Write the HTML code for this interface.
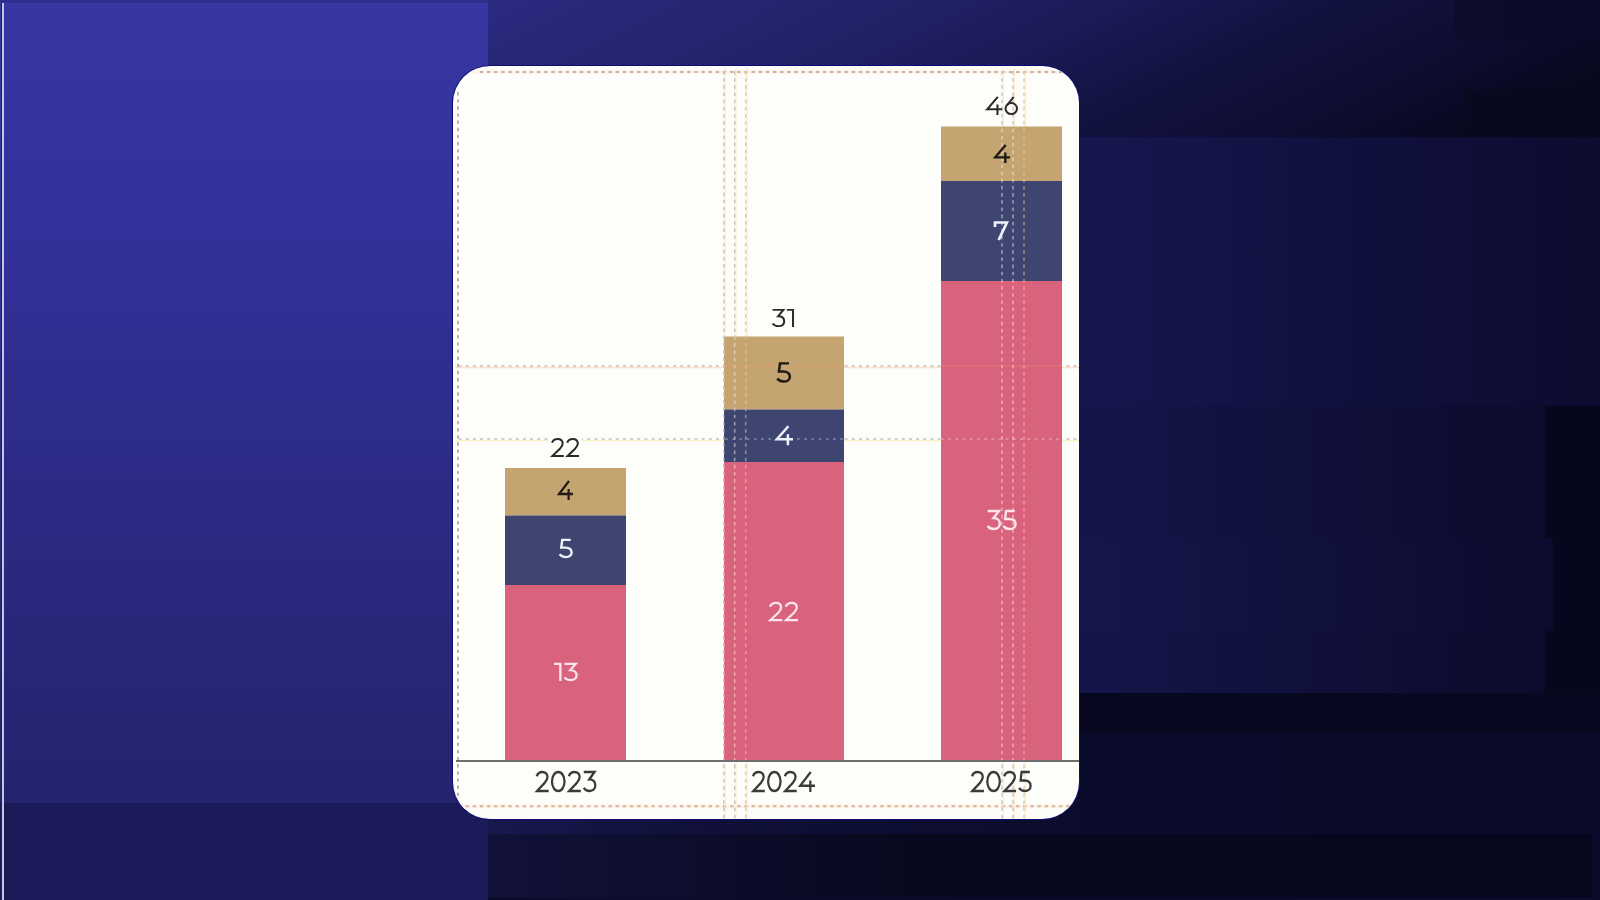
<!DOCTYPE html>
<html><head><meta charset="utf-8">
<style>
html,body{margin:0;padding:0;width:1600px;height:900px;overflow:hidden;background:#0c0c30;}
body{position:relative;font-family:"Liberation Sans",sans-serif;}
.b{position:absolute;}
svg{position:absolute;left:0;top:0;}
#chart{filter:blur(0.4px);}
</style></head>
<body>
<!-- background blocks -->
<svg width="1600" height="900" viewBox="0 0 1600 900"><defs><linearGradient id="g0" gradientUnits="userSpaceOnUse" x1="488" y1="0" x2="737.4" y2="498.9"><stop offset="0.000" stop-color="#2a2a80"/><stop offset="0.320" stop-color="#22226a"/><stop offset="0.520" stop-color="#1a1a55"/><stop offset="0.680" stop-color="#121240"/><stop offset="0.830" stop-color="#0e0e34"/><stop offset="1.000" stop-color="#08081f"/></linearGradient><linearGradient id="g1" gradientUnits="userSpaceOnUse" x1="1454" y1="0" x2="1600" y2="0"><stop offset="0.000" stop-color="#0c0c2c"/><stop offset="1.000" stop-color="#0a0a26"/></linearGradient><linearGradient id="g2" gradientUnits="userSpaceOnUse" x1="1465" y1="0" x2="1600" y2="0"><stop offset="0.000" stop-color="#08081f"/><stop offset="1.000" stop-color="#07081e"/></linearGradient><linearGradient id="g3" gradientUnits="userSpaceOnUse" x1="1079" y1="0" x2="1600" y2="0"><stop offset="0.000" stop-color="#17174f"/><stop offset="0.520" stop-color="#10103e"/><stop offset="1.000" stop-color="#0c0c30"/></linearGradient><linearGradient id="g4" gradientUnits="userSpaceOnUse" x1="1079" y1="0" x2="1545" y2="0"><stop offset="0.000" stop-color="#15154a"/><stop offset="1.000" stop-color="#0b0b2c"/></linearGradient><linearGradient id="g5" gradientUnits="userSpaceOnUse" x1="1079" y1="0" x2="1553" y2="0"><stop offset="0.000" stop-color="#16164c"/><stop offset="1.000" stop-color="#0b0b2d"/></linearGradient><linearGradient id="g6" gradientUnits="userSpaceOnUse" x1="1079" y1="0" x2="1545" y2="0"><stop offset="0.000" stop-color="#15154a"/><stop offset="1.000" stop-color="#0b0b2c"/></linearGradient><linearGradient id="g7" gradientUnits="userSpaceOnUse" x1="488" y1="0" x2="1600" y2="0"><stop offset="0.000" stop-color="#18184e"/><stop offset="0.191" stop-color="#10103a"/><stop offset="0.532" stop-color="#0b0c2c"/><stop offset="1.000" stop-color="#0a0b28"/></linearGradient><linearGradient id="g8" gradientUnits="userSpaceOnUse" x1="488" y1="0" x2="1592" y2="0"><stop offset="0.000" stop-color="#12123a"/><stop offset="0.373" stop-color="#08081f"/><stop offset="1.000" stop-color="#06071c"/></linearGradient><linearGradient id="g9" gradientUnits="userSpaceOnUse" x1="0" y1="3" x2="0" y2="803"><stop offset="0.000" stop-color="#3737a3"/><stop offset="0.300" stop-color="#31319a"/><stop offset="0.700" stop-color="#29297f"/><stop offset="1.000" stop-color="#24236e"/></linearGradient></defs><rect x="0" y="0" width="1600" height="900" fill="#0c0c30" opacity="1"/><rect x="488" y="0" width="1112" height="137" fill="url(#g0)" opacity="1"/><rect x="1454" y="0" width="146" height="41" fill="url(#g1)" opacity="1"/><rect x="1465" y="90" width="135" height="47" fill="url(#g2)" opacity="1"/><rect x="1079" y="137" width="521" height="269" fill="url(#g3)" opacity="1"/><rect x="1079" y="406" width="466" height="133" fill="url(#g4)" opacity="1"/><rect x="1545" y="406" width="55" height="287" fill="#06071c" opacity="1"/><rect x="1079" y="539" width="474" height="92" fill="url(#g5)" opacity="1"/><rect x="1079" y="631" width="466" height="62" fill="url(#g6)" opacity="1"/><rect x="488" y="693" width="1112" height="40" fill="#07081f" opacity="1"/><rect x="488" y="733" width="1112" height="101" fill="url(#g7)" opacity="1"/><rect x="488" y="834" width="1104" height="63" fill="url(#g8)" opacity="1"/><rect x="1592" y="834" width="8" height="63" fill="#0b0c2c" opacity="1"/><rect x="488" y="897" width="1112" height="3" fill="#0b0c2c" opacity="1"/><rect x="0" y="3" width="488" height="800" fill="url(#g9)" opacity="1"/><rect x="0" y="803" width="488" height="97" fill="#1c1b5a" opacity="1"/><rect x="0" y="0" width="488" height="3" fill="#2e2e8c" opacity="1"/><rect x="1" y="3" width="1" height="897" fill="#1a18a0" opacity="1"/><rect x="2" y="3" width="2" height="897" fill="#c6c6de" opacity="1"/></svg>
<svg id="chart" width="1600" height="900" viewBox="0 0 1600 900">
<defs><g id="d0"><ellipse cx="37" cy="50" rx="32" ry="45"/></g><g id="d1"><path d="M0 5H31V100"/></g><g id="d2"><path d="M5 25C10 12 21 5 34 5C50 5 60 15 60 29C60 39 55 46 47 55L7 95H66"/></g><g id="d3"><path d="M3 5H58L31 40C50 40 62 51 62 68C62 85 50 95 33 95C20 95 9 89 3 80"/></g><g id="d4"><path d="M60 5L6 70H82M58 45V100"/></g><g id="d5"><path d="M58 5H16L11 45H31C51 45 62 56 62 71C62 86 50 95 33 95C20 95 9 89 3 80"/></g><g id="d6"><path d="M46 5L12 50"/><circle cx="34" cy="66" r="29"/></g><g id="d7"><path d="M5 30V5H61L22 100"/></g>
<clipPath id="bc"><rect x="505" y="468" width="121" height="293"/><rect x="724" y="336.5" width="120" height="424.5"/><rect x="941" y="126.5" width="121" height="634.5"/></clipPath>
<clipPath id="cc"><rect x="453" y="66" width="626" height="753" rx="37" ry="37"/></clipPath>
</defs>
<rect x="452" y="65" width="628" height="755" rx="38" ry="38" fill="#0d0d78"/>
<rect x="453" y="66" width="626" height="753" rx="37" ry="37" fill="#fdfdf9"/>
<g clip-path="url(#cc)">
<rect x="455" y="367" width="624" height="1.2" fill="#fbd9c0" opacity="0.9"/><rect x="455" y="440" width="624" height="1.2" fill="#fbf0c0" opacity="0.9"/><rect x="455" y="70" width="624" height="4" fill="#fcefe6" opacity="0.7"/><line x1="479.80" y1="72" x2="1079" y2="72" stroke="#c4b4ac" stroke-width="1.9" stroke-dasharray="3.4 3.75" opacity="1.0"/><line x1="458.55" y1="366" x2="1079" y2="366" stroke="#c8bcb8" stroke-width="1.7" stroke-dasharray="3 4.15" opacity="1.0"/><line x1="458.55" y1="439" x2="1079" y2="439" stroke="#c8c0b8" stroke-width="1.7" stroke-dasharray="3 4.15" opacity="1.0"/><rect x="455" y="804.3" width="624" height="4" fill="#fcefe6" opacity="0.7"/><line x1="458.35" y1="806.3" x2="1079" y2="806.3" stroke="#d8b49c" stroke-width="1.9" stroke-dasharray="3.4 3.75" opacity="1.0"/><line x1="458" y1="92.00" x2="458" y2="796" stroke="#b8aaa6" stroke-width="1.8" stroke-dasharray="3.4 3.75" opacity="1.0"/>
<rect x="724.3" y="68" width="1.5" height="751" fill="#fce6c8" opacity="0.7"/><line x1="723.8" y1="71.05" x2="723.8" y2="819" stroke="#c4b4a8" stroke-width="1.15" stroke-dasharray="3.6 3.55" opacity="1.0"/><rect x="735.2" y="68" width="1.5" height="751" fill="#fce6c8" opacity="0.7"/><line x1="734.7" y1="71.05" x2="734.7" y2="819" stroke="#c4b4a8" stroke-width="1.15" stroke-dasharray="3.6 3.55" opacity="1.0"/><rect x="746.2" y="68" width="1.5" height="751" fill="#fce6c8" opacity="0.7"/><line x1="745.7" y1="71.05" x2="745.7" y2="819" stroke="#dcc098" stroke-width="1.15" stroke-dasharray="3.6 3.55" opacity="1.0"/><rect x="1002.5" y="68" width="1.5" height="751" fill="#fce6c8" opacity="0.7"/><line x1="1002" y1="71.05" x2="1002" y2="819" stroke="#c4b4a8" stroke-width="1.15" stroke-dasharray="3.6 3.55" opacity="1.0"/><rect x="1013.5" y="68" width="1.5" height="751" fill="#fce6c8" opacity="0.7"/><line x1="1013" y1="71.05" x2="1013" y2="819" stroke="#c4b4a8" stroke-width="1.15" stroke-dasharray="3.6 3.55" opacity="1.0"/><rect x="1024.5" y="68" width="1.5" height="751" fill="#fce6c8" opacity="0.7"/><line x1="1024" y1="71.05" x2="1024" y2="819" stroke="#dcc098" stroke-width="1.15" stroke-dasharray="3.6 3.55" opacity="1.0"/>
<rect x="505" y="468" width="121" height="47.5" fill="#c4a572"/><rect x="505" y="515.5" width="121" height="69.5" fill="#3d4570"/><rect x="505" y="585" width="121" height="176" fill="#d9627c"/><rect x="724" y="336.5" width="120" height="73.0" fill="#c4a572"/><rect x="724" y="409.5" width="120" height="52.5" fill="#3d4570"/><rect x="724" y="462" width="120" height="299" fill="#d9627c"/><rect x="941" y="126.5" width="121" height="54.5" fill="#c4a572"/><rect x="941" y="181" width="121" height="100" fill="#3d4570"/><rect x="941" y="281" width="121" height="480" fill="#d9627c"/>
<g clip-path="url(#bc)"><line x1="723.8" y1="71.55" x2="723.8" y2="819" stroke="#fff0f4" stroke-width="1.6" stroke-dasharray="3.6 3.55" opacity="0.5"/><line x1="734.7" y1="71.55" x2="734.7" y2="819" stroke="#fff0f4" stroke-width="1.6" stroke-dasharray="3.6 3.55" opacity="0.5"/><line x1="745.7" y1="71.55" x2="745.7" y2="819" stroke="#ffc8a0" stroke-width="1.6" stroke-dasharray="3.6 3.55" opacity="0.5"/><line x1="1002" y1="71.55" x2="1002" y2="819" stroke="#fff0f4" stroke-width="1.6" stroke-dasharray="3.6 3.55" opacity="0.5"/><line x1="1013" y1="71.55" x2="1013" y2="819" stroke="#fff0f4" stroke-width="1.6" stroke-dasharray="3.6 3.55" opacity="0.5"/><line x1="1024" y1="71.55" x2="1024" y2="819" stroke="#ffc8a0" stroke-width="1.6" stroke-dasharray="3.6 3.55" opacity="0.5"/><rect x="724" y="365.2" width="120" height="1.6" fill="#f0a070" opacity="0.45"/><line x1="458.60" y1="439" x2="1079" y2="439" stroke="#ffffff" stroke-width="1.6" stroke-dasharray="2.8 4.40" opacity="0.35"/><rect x="941" y="365.2" width="121" height="1.6" fill="#f0a070" opacity="0.25"/></g>
<rect x="456" y="760" width="623" height="2" fill="#6e6e6e"/>
<rect x="548" y="436" width="34" height="6" fill="#fdfdf9"/>
<g transform="translate(551.00,438.00) scale(0.1944,0.1900)" stroke="#2c2c2c" stroke-width="10.5" fill="none" opacity="1.0"><use href="#d2" x="0"/><use href="#d2" x="78"/></g>
<g transform="translate(558.00,480.00) scale(0.1829,0.2000)" stroke="#1e1a14" stroke-width="12" fill="none" opacity="1.0"><use href="#d4" x="0"/></g>
<g transform="translate(559.00,539.00) scale(0.2031,0.1900)" stroke="#eef0fa" stroke-width="12" fill="none" opacity="1.0"><use href="#d5" x="0"/></g>
<g transform="translate(554.00,663.00) scale(0.2054,0.1800)" stroke="#fbe4ec" stroke-width="11.5" fill="none" opacity="1.0"><use href="#d1" x="0"/><use href="#d3" x="48"/></g>
<g transform="translate(772.00,309.00) scale(0.1964,0.1800)" stroke="#2c2c2c" stroke-width="10.5" fill="none" opacity="1.0"><use href="#d3" x="0"/><use href="#d1" x="76"/></g>
<g transform="translate(776.60,362.40) scale(0.2141,0.2010)" stroke="#1e1a14" stroke-width="12" fill="none" opacity="1.0"><use href="#d5" x="0"/></g>
<g transform="translate(775.60,425.20) scale(0.2122,0.2010)" stroke="#eef0fa" stroke-width="12" fill="none" opacity="1.0"><use href="#d4" x="0"/></g>
<g transform="translate(769.00,602.00) scale(0.2014,0.1900)" stroke="#fbe4ec" stroke-width="11.5" fill="none" opacity="1.0"><use href="#d2" x="0"/><use href="#d2" x="78"/></g>
<g transform="translate(986.00,96.00) scale(0.1975,0.1900)" stroke="#2c2c2c" stroke-width="10.5" fill="none" opacity="1.0"><use href="#d4" x="0"/><use href="#d6" x="94"/></g>
<g transform="translate(994.00,144.00) scale(0.1951,0.1900)" stroke="#1e1a14" stroke-width="12" fill="none" opacity="1.0"><use href="#d4" x="0"/></g>
<g transform="translate(994.00,221.50) scale(0.2121,0.1850)" stroke="#eef0fa" stroke-width="13" fill="none" opacity="1.0"><use href="#d7" x="0"/></g>
<g transform="translate(987.00,510.00) scale(0.2071,0.2000)" stroke="#fbe4ec" stroke-width="11.5" fill="none" opacity="1.0"><use href="#d3" x="0"/><use href="#d5" x="76"/></g>
<g transform="translate(535.70,771.00) scale(0.1961,0.2100)" stroke="#3a3a3a" stroke-width="11.5" fill="none" opacity="1.0"><use href="#d2" x="0"/><use href="#d0" x="78"/><use href="#d2" x="164"/><use href="#d3" x="242"/></g>
<g transform="translate(752.00,771.00) scale(0.1944,0.2100)" stroke="#3a3a3a" stroke-width="11.5" fill="none" opacity="1.0"><use href="#d2" x="0"/><use href="#d0" x="78"/><use href="#d2" x="164"/><use href="#d4" x="242"/></g>
<g transform="translate(971.00,771.00) scale(0.1961,0.2100)" stroke="#3a3a3a" stroke-width="11.5" fill="none" opacity="1.0"><use href="#d2" x="0"/><use href="#d0" x="78"/><use href="#d2" x="164"/><use href="#d5" x="242"/></g>
</g>
</svg>
</body></html>
